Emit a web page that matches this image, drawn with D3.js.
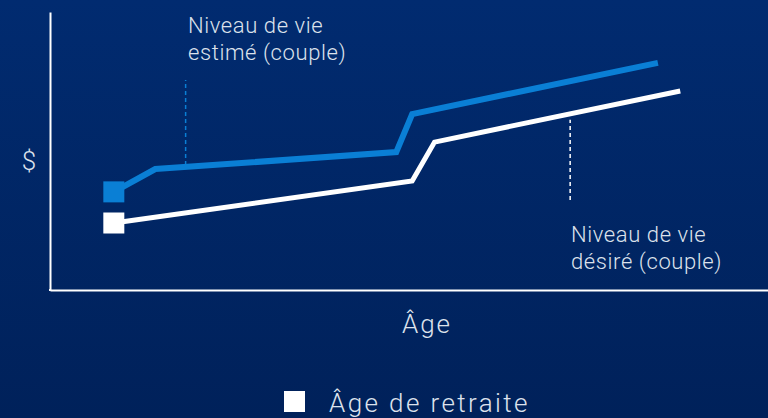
<!DOCTYPE html>
<html>
<head>
<meta charset="utf-8">
<script src="https://cdn.jsdelivr.net/npm/d3@7"></script>
<style>
  html, body { margin: 0; padding: 0; background: #00245f; }
  svg { display: block; }
  .lbl { font-family: Roboto, "Noto Sans", sans-serif; font-weight: 300; fill: #dde2ec; }
</style>
</head>
<body>
<script>
"use strict";

// Ages (x) and $ level (y, 0-100 arbitrary units)
var retirementAge = 59;
var estimeAges = [59, 61.6, 76.7, 77.7, 93.1];
var estimeVals = [35.3, 43.5, 49.6, 63.3, 81.7];
var desireAges = [59, 77.7, 79.1, 94.5];
var desireVals = [24.1, 39.2, 53.2, 71.6];

// dashed leader lines: [age, from, to]
var estimeLeader = [63.5, 45, 75.5];
var desireLeader = [87.6, 32.4, 61.2];

var estimeLabel = ["Niveau de vie", "estimé (couple)"];
var desireLabel = ["Niveau de vie", "désiré (couple)"];
var xTitle = "Âge";
var yTitle = "$";
var legendText = "Âge de retraite";

var width = 768, height = 418;
var blue = "#0a7fd5", white = "#ffffff";

var svg = d3.select("body").append("svg")
  .attr("width", width)
  .attr("height", height);

var grad = svg.append("defs").append("linearGradient")
  .attr("id", "bg").attr("x1", 0).attr("y1", 0).attr("x2", 0).attr("y2", 1);
grad.append("stop").attr("offset", "0%").attr("stop-color", "#012b70");
grad.append("stop").attr("offset", "100%").attr("stop-color", "#00215a");

svg.append("rect")
  .attr("width", width).attr("height", height)
  .attr("fill", "url(#bg)");

var xScale = d3.scaleLinear().domain([55, 100]).range([50, 768]);
var yScale = d3.scaleLinear().domain([0, 100]).range([290, 12]);

// axes: plain lines, no ticks
svg.append("g")
  .attr("transform", "translate(0," + yScale(0) + ")")
  .call(d3.axisBottom(xScale).ticks(0).tickSizeOuter(0));
svg.append("g")
  .attr("transform", "translate(" + xScale(55) + ",0)")
  .call(d3.axisLeft(yScale).ticks(0).tickSizeOuter(0));
svg.selectAll(".domain")
  .attr("stroke", white)
  .attr("stroke-width", 2);
// close the corner
svg.append("line")
  .attr("x1", xScale(55) - 1).attr("x2", xScale(55) + 1)
  .attr("y1", yScale(0)).attr("y2", yScale(0))
  .attr("stroke", white).attr("stroke-width", 2);

var line = d3.line()
  .x(function (d) { return xScale(d[0]); })
  .y(function (d) { return yScale(d[1]); });

function drawSeries(ages, vals, color, w) {
  var pts = d3.zip(ages, vals);
  svg.append("path")
    .datum(pts)
    .attr("d", line)
    .attr("fill", "none")
    .attr("stroke", color)
    .attr("stroke-width", w)
    .attr("stroke-linejoin", "miter");
  svg.append("rect")
    .attr("x", xScale(retirementAge) - 10.5)
    .attr("y", yScale(vals[0]) - 10.5)
    .attr("width", 21).attr("height", 21)
    .attr("fill", color);
}

drawSeries(desireAges, desireVals, white, 5);
drawSeries(estimeAges, estimeVals, blue, 6);

function drawLeader(l, color) {
  svg.append("line")
    .attr("x1", xScale(l[0])).attr("x2", xScale(l[0]))
    .attr("y1", yScale(l[1])).attr("y2", yScale(l[2]))
    .attr("stroke", color)
    .attr("stroke-width", 1.5)
    .attr("stroke-dasharray", "4,3");
}
drawLeader(estimeLeader, blue);
drawLeader(desireLeader, white);

function drawLabel(lines, x, y) {
  var t = svg.append("text").attr("class", "lbl")
    .attr("x", x).attr("y", y)
    .style("font-size", "22px")
    .style("letter-spacing", "0.6px");
  t.selectAll("tspan").data(lines).enter().append("tspan")
    .attr("x", x)
    .attr("dy", function (d, i) { return i === 0 ? 0 : 27; })
    .text(function (d) { return d; });
}
drawLabel(estimeLabel, 188, 33);
drawLabel(desireLabel, 571, 242);

svg.append("text").attr("class", "lbl")
  .attr("x", 29).attr("y", 170)
  .attr("text-anchor", "middle")
  .style("font-size", "26px")
  .text(yTitle);

svg.append("text").attr("class", "lbl")
  .attr("x", 427).attr("y", 333)
  .attr("text-anchor", "middle")
  .style("font-size", "26px")
  .style("letter-spacing", "2px")
  .text(xTitle);

// legend
svg.append("rect")
  .attr("x", 284).attr("y", 391)
  .attr("width", 21).attr("height", 21)
  .attr("fill", white);
svg.append("text").attr("class", "lbl")
  .attr("x", 329).attr("y", 412)
  .style("font-size", "26px")
  .style("letter-spacing", "2.4px")
  .text(legendText);
</script>
</body>
</html>
